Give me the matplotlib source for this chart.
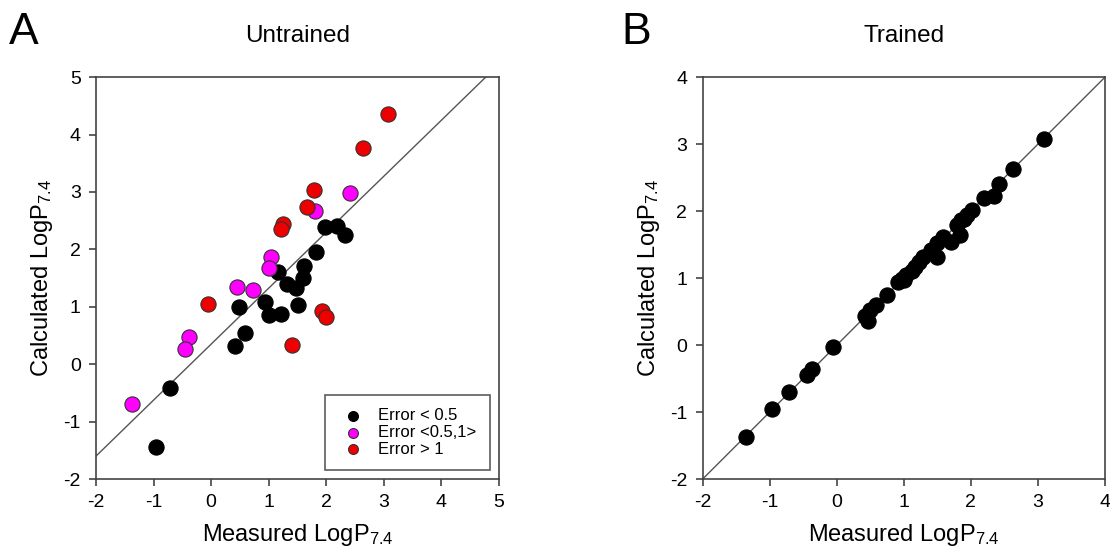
import matplotlib
matplotlib.use("Agg")
import matplotlib.pyplot as plt
import numpy as np

plt.rcParams['font.family'] = ['Liberation Sans', 'DejaVu Sans']
plt.rcParams['mathtext.default'] = 'regular'
plt.rcParams['axes.unicode_minus'] = False

# Panel A (Untrained)
black_x = [1.97, 2.18, 2.33, 1.82, 1.61, 1.60, 1.17, 1.31, 1.48, 0.93, 1.51, 0.49, 1.01, 1.22, 0.58, 0.42, -0.71, -0.95]
black_y = [2.39, 2.41, 2.25, 1.95, 1.71, 1.51, 1.61, 1.39, 1.32, 1.09, 1.03, 0.99, 0.86, 0.88, 0.55, 0.31, -0.42, -1.45]
mag_x = [2.41, 1.80, 1.04, 1.01, 0.45, 0.73, -0.39, -0.46, -1.38]
mag_y = [2.99, 2.66, 1.86, 1.68, 1.35, 1.29, 0.47, 0.26, -0.69]
red_x = [3.08, 2.63, 1.79, 1.67, 1.24, 1.22, -0.05, 1.92, 2.00, 1.41]
red_y = [4.35, 3.76, 3.04, 2.74, 2.45, 2.35, 1.05, 0.92, 0.83, 0.34]
fit_x = [-2.0, 4.77]
fit_y = [-1.6, 5.0]
legend_labels = ["Error < 0.5", "Error <0.5,1>", "Error > 1"]

# Panel B (Trained)
tr_x = [3.09, 2.63, 2.42, 2.20, 2.34, 2.01, 1.94, 1.86, 1.79, 1.84, 1.70, 1.59, 1.50, 1.40, 1.50,
        1.29, 1.22, 1.17, 1.03, 1.00, 0.92, 0.75, 0.58, 0.50, 0.42, 0.47, -0.05, -0.37, -0.45,
        -0.71, -0.96, -1.36, 1.90, 1.12, 0.97]
tr_y = [3.07, 2.63, 2.41, 2.19, 2.22, 2.01, 1.94, 1.86, 1.79, 1.64, 1.54, 1.61, 1.52, 1.42, 1.31,
        1.32, 1.24, 1.17, 1.04, 0.97, 0.94, 0.75, 0.60, 0.52, 0.43, 0.36, -0.03, -0.36, -0.45,
        -0.70, -0.96, -1.37, 1.88, 1.10, 0.99]
id_x = [-2, 4]
id_y = [-2, 4]

fig = plt.figure(figsize=(11.10, 5.59), dpi=100)
axA = fig.add_axes([0.0865, 0.143, 0.363, 0.719])
axB = fig.add_axes([0.633, 0.143, 0.3625, 0.719])

ms = 120
for ax in (axA, axB):
    for s in ax.spines.values():
        s.set_color('#444444')
        s.set_linewidth(1.2)
    ax.tick_params(direction='out', length=5, width=1.2, color='#444444',
                   labelsize=14, pad=6)

axA.plot(fit_x, fit_y, color='#555555', lw=1.0, zorder=1)
axA.scatter(black_x, black_y, s=ms, c='black', edgecolors='black', linewidths=0.8, zorder=3, label=legend_labels[0])
axA.scatter(mag_x, mag_y, s=ms, c='#ff00ff', edgecolors='#333333', linewidths=0.8, zorder=3, label=legend_labels[1])
axA.scatter(red_x, red_y, s=ms, c='#ee0000', edgecolors='#333333', linewidths=0.8, zorder=3, label=legend_labels[2])
axA.set_xlim(-2, 5)
axA.set_ylim(-2, 5)
axA.set_xticks(range(-2, 6))
axA.set_yticks(range(-2, 6))
axA.set_xlabel(r"Measured LogP$_{7.4}$", fontsize=17, labelpad=8)
axA.set_ylabel(r"Calculated LogP$_{7.4}$", fontsize=17, labelpad=6)
axA.set_title("Untrained", fontsize=17.5, pad=25)
leg = axA.legend(loc='lower right', fontsize=12, frameon=True, fancybox=False,
                 edgecolor='#333333', markerscale=0.65, handletextpad=0.6,
                 borderpad=0.8, labelspacing=0.1, borderaxespad=0.55, handlelength=1.8)
leg.get_frame().set_linewidth(1.2)

axB.plot(id_x, id_y, color='#555555', lw=1.0, zorder=1)
axB.scatter(tr_x, tr_y, s=ms, c='black', edgecolors='black', linewidths=0.8, zorder=3)
axB.set_xlim(-2, 4)
axB.set_ylim(-2, 4)
axB.set_xticks(range(-2, 5))
axB.set_yticks(range(-2, 5))
axB.set_xlabel(r"Measured LogP$_{7.4}$", fontsize=17, labelpad=8)
axB.set_ylabel(r"Calculated LogP$_{7.4}$", fontsize=17, labelpad=6)
axB.set_title("Trained", fontsize=17.5, pad=25)

fig.text(0.008, 0.922, "A", fontsize=32)
fig.text(0.560, 0.922, "B", fontsize=32)

fig.savefig("out.png", dpi=100)
